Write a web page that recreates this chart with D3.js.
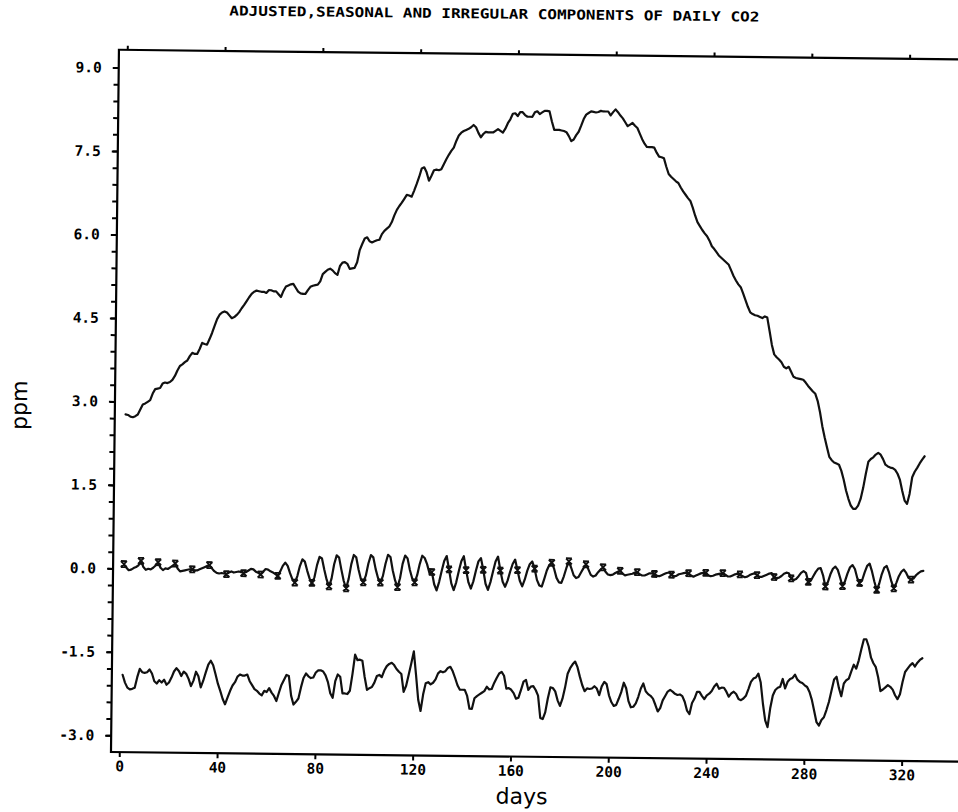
<!DOCTYPE html>
<html>
<head>
<meta charset="utf-8">
<script src="https://cdn.jsdelivr.net/npm/d3@7"></script>
<style>
  html, body { margin: 0; padding: 0; background: #fff; }
  svg { display: block; }
</style>
</head>
<body>
<svg id="chart" width="958" height="812"></svg>
<script>
// Daily CO2 decomposition: seasonally adjusted, weekly seasonal and irregular parts (ppm)
const firstDay = 1;

const adjusted = [
  2.77, 2.76, 2.73, 2.72, 2.74, 2.77, 2.86, 2.95, 2.97, 3.00,
  3.03, 3.15, 3.23, 3.24, 3.25, 3.33, 3.35, 3.34, 3.36, 3.40,
  3.47, 3.57, 3.65, 3.68, 3.72, 3.75, 3.83, 3.89, 3.87, 3.87,
  3.96, 4.07, 4.05, 4.04, 4.14, 4.25, 4.38, 4.50, 4.58, 4.62,
  4.64, 4.62, 4.57, 4.52, 4.54, 4.58, 4.63, 4.70, 4.76, 4.83,
  4.90, 4.96, 5.00, 5.02, 5.01, 5.00, 5.00, 4.98, 5.03, 5.03,
  5.01, 5.01, 4.96, 4.91, 5.02, 5.10, 5.12, 5.14, 5.15, 5.08,
  5.01, 4.98, 4.97, 4.97, 5.04, 5.10, 5.12, 5.13, 5.14, 5.20,
  5.33, 5.37, 5.41, 5.43, 5.40, 5.35, 5.32, 5.48, 5.54, 5.55,
  5.52, 5.43, 5.44, 5.45, 5.55, 5.77, 5.88, 5.98, 6.00, 5.93,
  5.91, 5.93, 5.95, 5.96, 6.06, 6.12, 6.16, 6.20, 6.28, 6.40,
  6.50, 6.57, 6.63, 6.70, 6.77, 6.76, 6.74, 6.85, 6.97, 7.10,
  7.25, 7.27, 7.18, 7.03, 7.12, 7.22, 7.23, 7.22, 7.24, 7.33,
  7.42, 7.50, 7.57, 7.63, 7.75, 7.85, 7.90, 7.93, 7.95, 7.97,
  8.00, 8.04, 8.00, 7.90, 7.82, 7.88, 7.92, 7.91, 7.91, 7.91,
  7.94, 7.97, 7.94, 7.91, 7.98, 8.08, 8.15, 8.25, 8.26, 8.21,
  8.28, 8.28, 8.23, 8.20, 8.20, 8.20, 8.28, 8.30, 8.25, 8.28,
  8.31, 8.31, 8.30, 8.12, 7.97, 7.97, 7.97, 7.96, 7.95, 7.93,
  7.86, 7.77, 7.80, 7.88, 7.94, 8.05, 8.17, 8.25, 8.28, 8.31,
  8.30, 8.29, 8.30, 8.32, 8.31, 8.31, 8.31, 8.24, 8.30, 8.35,
  8.30, 8.24, 8.19, 8.12, 8.05, 8.08, 8.11, 8.06, 8.02, 7.92,
  7.82, 7.74, 7.68, 7.68, 7.68, 7.67, 7.58, 7.51, 7.50, 7.48,
  7.33, 7.20, 7.15, 7.11, 7.07, 7.04, 6.96, 6.89, 6.83, 6.77,
  6.72, 6.60, 6.46, 6.34, 6.27, 6.20, 6.14, 6.09, 6.01, 5.91,
  5.86, 5.80, 5.74, 5.70, 5.66, 5.62, 5.58, 5.48, 5.38, 5.30,
  5.23, 5.18, 5.07, 4.95, 4.83, 4.73, 4.70, 4.68, 4.67, 4.65,
  4.63, 4.66, 4.64, 4.40, 4.15, 3.98, 3.93, 3.89, 3.84, 3.76,
  3.73, 3.76, 3.67, 3.58, 3.56, 3.55, 3.54, 3.53, 3.48, 3.42,
  3.37, 3.32, 3.28, 3.15, 2.95, 2.70, 2.50, 2.32, 2.15, 2.09,
  2.05, 2.03, 2.01, 1.90, 1.74, 1.55, 1.40, 1.28, 1.22, 1.22,
  1.28, 1.40, 1.60, 1.85, 2.07, 2.12, 2.15, 2.20, 2.23, 2.20,
  2.12, 2.02, 1.99, 1.97, 1.96, 1.93, 1.86, 1.75, 1.55, 1.38,
  1.32, 1.50, 1.80, 1.90, 1.97, 2.05, 2.12, 2.18
];

// one row per week; the first day of each week carries a plot symbol
const seasonal = [
   0.08,  0.02, -0.03, -0.02,  0.01,  0.03,  0.06,
   0.14,  0.03, -0.02,  0.00, -0.01,  0.02,  0.06,
   0.12,  0.02, -0.02,  0.01,  0.00,  0.03,  0.06,
   0.10,  0.01, -0.04, -0.03, -0.02, -0.01,  0.00,
   0.00, -0.02, -0.02,  0.00,  0.02,  0.04,  0.06,
   0.08,  0.02, -0.03, -0.06, -0.07, -0.06, -0.07,
  -0.08, -0.05, -0.03, -0.05, -0.04, -0.03, -0.04,
  -0.06, -0.04, -0.01,  0.02,  0.01, -0.03, -0.05,
  -0.08, -0.03,  0.02,  0.01, -0.02, -0.04, -0.07,
  -0.10, -0.02,  0.08,  0.14,  0.08, -0.05, -0.16,
  -0.22, -0.10,  0.08,  0.20,  0.16,  0.00, -0.14,
  -0.22, -0.12,  0.10,  0.25,  0.22,  0.02, -0.16,
  -0.28, -0.14,  0.12,  0.28,  0.24,  0.02, -0.18,
  -0.31, -0.14,  0.12,  0.29,  0.25,  0.03, -0.14,
  -0.20, -0.08,  0.14,  0.29,  0.25,  0.04, -0.12,
  -0.20, -0.08,  0.14,  0.30,  0.26,  0.02, -0.16,
  -0.28, -0.12,  0.14,  0.29,  0.24,  0.03, -0.12,
  -0.19, -0.06,  0.14,  0.29,  0.25,  0.14, -0.02,
   0.00, -0.22, -0.33, -0.18,  0.02,  0.20,  0.29,
   0.05, -0.20, -0.32, -0.18,  0.02,  0.20,  0.29,
   0.04, -0.18, -0.29, -0.16,  0.03,  0.20,  0.26,
   0.05, -0.20, -0.31, -0.17,  0.02,  0.20,  0.29,
   0.04, -0.16, -0.25, -0.14,  0.02,  0.16,  0.24,
   0.05, -0.14, -0.24, -0.12,  0.04,  0.16,  0.21,
   0.08, -0.12, -0.22, -0.24, -0.10,  0.05,  0.15,
   0.19,  0.08, -0.08, -0.16, -0.17, -0.05,  0.10,
   0.22,  0.10, -0.03, -0.08, -0.06,  0.02,  0.10,
   0.17,  0.08, -0.02, -0.05, -0.03,  0.03,  0.08,
   0.12,  0.04, -0.01, -0.02, -0.01,  0.02,  0.04,
   0.06,  0.01, -0.02, -0.01,  0.00,  0.01,  0.03,
   0.04,  0.00, -0.02, -0.02,  0.00,  0.02,  0.02,
   0.01, -0.02, -0.03, -0.01,  0.01,  0.03,  0.04,
   0.00, -0.03, -0.02,  0.01,  0.02,  0.03,  0.04,
   0.03, -0.01, -0.03, -0.01,  0.01,  0.03,  0.04,
   0.04,  0.00, -0.02, -0.01,  0.01,  0.02,  0.03,
   0.04,  0.01, -0.02, -0.02,  0.00,  0.02,  0.03,
   0.02, -0.01, -0.03, -0.02,  0.01,  0.03,  0.04,
   0.01, -0.02, -0.02,  0.00,  0.02,  0.04,  0.05,
  -0.02, -0.04, -0.03,  0.00,  0.04,  0.06,  0.05,
  -0.04, -0.07, -0.05,  0.00,  0.06,  0.09,  0.06,
  -0.10, -0.08,  0.00,  0.08,  0.14,  0.15,  0.02,
  -0.18, -0.10,  0.04,  0.14,  0.18,  0.12, -0.02,
  -0.17, -0.08,  0.06,  0.17,  0.21,  0.14, -0.02,
  -0.11, -0.06,  0.08,  0.20,  0.24,  0.10, -0.08,
  -0.23, -0.12,  0.05,  0.17,  0.20,  0.08, -0.08,
  -0.20, -0.10,  0.02,  0.10,  0.14,  0.08, -0.01,
  -0.04, -0.02,  0.04,  0.08,  0.11,  0.12
];

const irregular = [
  -1.91, -2.05, -2.14, -2.17, -2.16, -2.14, -1.95, -1.80, -1.86, -1.87,
  -1.86, -1.81, -1.88, -2.02, -2.06, -2.00, -2.04, -1.99, -2.08, -2.04,
  -1.95, -1.84, -1.78, -1.83, -1.92, -1.84, -1.88, -1.97, -2.10, -2.00,
  -1.84, -1.92, -2.12, -2.00, -1.85, -1.71, -1.64, -1.72, -1.88, -2.05,
  -2.18, -2.32, -2.42, -2.30, -2.18, -2.08, -2.02, -1.92, -1.88, -1.90,
  -1.90, -1.88, -2.00, -2.07, -2.14, -2.17, -2.22, -2.25, -2.17, -2.19,
  -2.12, -2.20, -2.26, -2.35, -2.20, -2.06, -1.97, -1.88, -1.90, -2.25,
  -2.41, -2.36, -2.30, -2.10, -1.93, -1.85, -1.90, -1.93, -1.92, -1.83,
  -1.79, -1.79, -1.81, -1.88, -2.00, -2.20, -2.28, -1.98, -1.86, -1.90,
  -2.20, -2.20, -2.21, -2.15, -1.85, -1.50, -1.60, -1.59, -1.61, -1.90,
  -2.13, -2.10, -2.08, -2.00, -1.88, -1.86, -1.90, -1.78, -1.70, -1.66,
  -1.64, -1.68, -1.75, -1.80, -1.84, -2.16, -2.05, -1.85, -1.65, -1.43,
  -1.85, -2.30, -2.50, -2.20, -2.00, -1.98, -2.02, -1.99, -1.93, -1.82,
  -1.78, -1.80, -1.78, -1.72, -1.70, -1.78, -1.90, -2.03, -2.11, -2.11,
  -2.11, -2.22, -2.45, -2.45, -2.26, -2.22, -2.19, -2.16, -2.13, -2.05,
  -2.10, -2.09, -1.98, -1.89, -1.81, -1.78, -1.85, -2.08, -2.07, -2.10,
  -2.16, -2.26, -2.24, -2.10, -1.95, -1.92, -2.10, -2.04, -2.03, -2.10,
  -2.20, -2.60, -2.62, -2.50, -2.25, -2.05, -2.06, -2.12, -2.28, -2.38,
  -2.25, -2.05, -1.80, -1.70, -1.63, -1.58, -1.68, -1.85, -2.00, -2.11,
  -2.06, -2.07, -2.06, -2.02, -2.06, -2.18, -2.02, -1.94, -1.98, -2.18,
  -2.30, -2.37, -2.35, -2.24, -2.12, -1.95, -2.05, -2.28, -2.39, -2.38,
  -2.32, -2.20, -2.05, -1.96, -2.10, -2.15, -2.18, -2.23, -2.34, -2.46,
  -2.40, -2.26, -2.18, -2.10, -2.07, -2.10, -2.14, -2.16, -2.15, -2.18,
  -2.28, -2.44, -2.50, -2.30, -2.22, -2.10, -2.10, -2.17, -2.23, -2.16,
  -2.13, -2.08, -2.00, -1.95, -2.04, -2.02, -2.02, -2.09, -2.18, -2.12,
  -2.09, -2.13, -2.22, -2.24, -2.21, -2.16, -2.04, -1.91, -1.85, -1.83,
  -1.76, -1.92, -2.30, -2.60, -2.72, -2.38, -2.15, -2.05, -2.01, -1.99,
  -1.85, -2.02, -1.90, -1.85, -1.83, -1.77, -1.86, -1.90, -1.92, -1.96,
  -1.99, -2.08, -2.22, -2.42, -2.62, -2.68, -2.58, -2.53, -2.40, -2.25,
  -2.05, -1.85, -1.80, -2.00, -2.15, -1.92, -1.86, -1.83, -1.70, -1.58,
  -1.65, -1.50, -1.30, -1.12, -1.12, -1.25, -1.45, -1.55, -1.62, -1.80,
  -2.05, -2.02, -1.98, -1.94, -1.97, -2.02, -2.12, -2.19, -2.10, -1.88,
  -1.70, -1.64, -1.58, -1.54, -1.60, -1.53, -1.48, -1.45
];

const xTickValues = [0, 40, 80, 120, 160, 200, 240, 280, 320];
const yTickValues = [-3.0, -1.5, 0.0, 1.5, 3.0, 4.5, 6.0, 7.5, 9.0];
const titleText = "ADJUSTED,SEASONAL AND IRREGULAR COMPONENTS OF DAILY CO2";

// ---------------------------------------------------------------
const svg = d3.select("#chart");
// the whole sheet sits very slightly turned
const sheet = svg.append("g").attr("transform", "rotate(0.65,535,400)");

const x = d3.scaleLinear().domain([-3.4, 360]).range([115, 115 + 363.4 * 2.445]);
const y = d3.scaleLinear().domain([-3.3, 9.32]).range([756.8, 54.5]);

const monoFont = "'DejaVu Sans Mono', 'Liberation Mono', monospace";
const sansFont = "'DejaVu Sans', 'Liberation Sans', sans-serif";

// frame
sheet.append("rect")
  .attr("x", x.range()[0]).attr("y", y.range()[1])
  .attr("width", x.range()[1] - x.range()[0])
  .attr("height", y.range()[0] - y.range()[1])
  .attr("fill", "none").attr("stroke", "#000").attr("stroke-width", 2.2);

function styleAxis(g) {
  g.select(".domain").remove();
  g.selectAll(".tick line").attr("stroke", "#000").attr("stroke-width", 2);
  g.selectAll(".tick text")
    .attr("fill", "#000")
    .style("font-family", monoFont)
    .style("font-weight", "bold")
    .style("font-size", "14.5px");
}

// y axis: minor ticks every 0.3, labelled ticks every 1.5
const yMinor = d3.range(-10, 31).map(i => i * 0.3);
sheet.append("g")
  .attr("transform", `translate(${x.range()[0]},0)`)
  .call(d3.axisLeft(y).tickValues(yMinor).tickSize(5).tickFormat(""))
  .call(styleAxis);
sheet.append("g")
  .attr("transform", `translate(${x.range()[0]},0)`)
  .call(d3.axisLeft(y).tickValues(yTickValues).tickSize(6).tickPadding(11)
    .tickFormat(d => d.toFixed(1)))
  .call(styleAxis);

// x axis below, plain ticks along the top edge
sheet.append("g")
  .attr("transform", `translate(0,${y.range()[0]})`)
  .call(d3.axisBottom(x).tickValues(xTickValues).tickSize(5).tickPadding(4)
    .tickFormat(d => String(d)))
  .call(styleAxis);
sheet.append("g")
  .attr("transform", `translate(0,${y.range()[1]})`)
  .call(d3.axisTop(x).tickValues(xTickValues).tickSize(4).tickFormat(""))
  .call(styleAxis);

// series
const line = d3.line()
  .x((d, i) => x(firstDay + i))
  .y(d => y(d));

[adjusted, seasonal, irregular].forEach(series => {
  sheet.append("path")
    .datum(series)
    .attr("d", line)
    .attr("fill", "none")
    .attr("stroke", "#111")
    .attr("stroke-width", 2.2)
    .attr("stroke-linejoin", "round")
    .attr("stroke-linecap", "round");
});

// weekly plot symbols on the seasonal curve
const markerPath = "M-3,-3L3,3M3,-3L-3,3M-3,-3H3M-3,3H3";
sheet.append("g")
  .selectAll("path")
  .data(seasonal.map((v, i) => ({ day: firstDay + i, v })).filter((d, i) => i % 7 === 0))
  .join("path")
  .attr("transform", d => `translate(${x(d.day)},${y(d.v)})`)
  .attr("d", markerPath)
  .attr("fill", "none")
  .attr("stroke", "#111")
  .attr("stroke-width", 1.8);

// title and axis titles
sheet.append("text")
  .attr("x", 490).attr("y", 19)
  .attr("text-anchor", "middle")
  .attr("textLength", 530)
  .attr("lengthAdjust", "spacingAndGlyphs")
  .style("font-family", monoFont)
  .style("font-weight", "bold")
  .style("font-size", "13.5px")
  .text(titleText);

sheet.append("text")
  .attr("transform", "translate(27,411) rotate(-90)")
  .attr("text-anchor", "middle")
  .style("font-family", sansFont)
  .style("font-size", "22px")
  .text("ppm");

sheet.append("text")
  .attr("x", 526).attr("y", 804)
  .attr("text-anchor", "middle")
  .style("font-family", sansFont)
  .style("font-size", "22px")
  .text("days");
</script>
</body>
</html>
